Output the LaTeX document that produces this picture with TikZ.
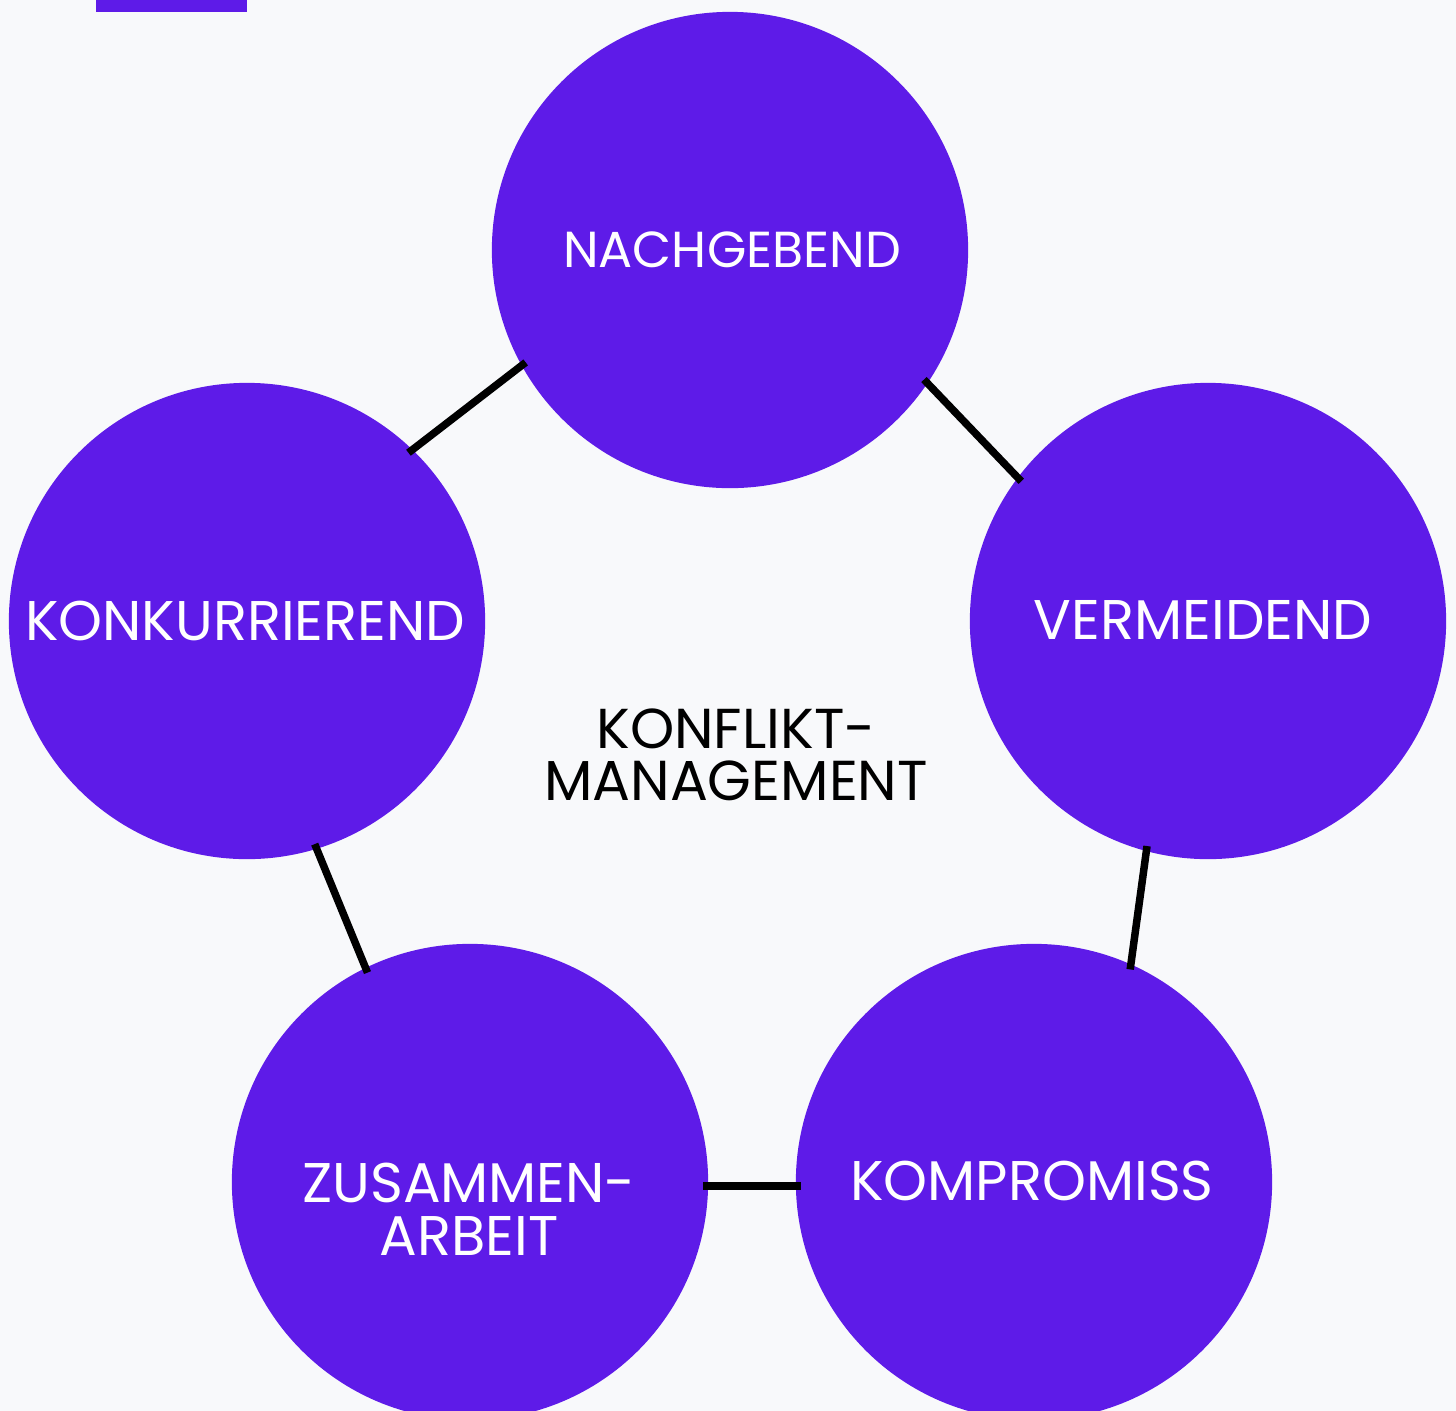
\documentclass[tikz,border=0pt]{standalone}
\usepackage{fontspec}
\setmainfont{Poppins}
\definecolor{bg}{HTML}{F8F9FB}
\definecolor{purp}{HTML}{5E1BE8}
\begin{document}
\begin{tikzpicture}[x=0.01cm,y=-0.01cm,
  bubble/.style={circle,fill=purp,minimum size=4.76cm,inner sep=0pt,outer sep=0pt},
  lbl/.style={text=white,anchor=base,inner sep=0pt},
  big/.style={font=\fontsize{15.9}{15.1}\selectfont},
  small/.style={font=\fontsize{14.4}{14.8}\selectfont},
  link/.style={draw=black,line width=0.075cm,shorten <=-0.05cm,shorten >=-0.05cm}]
\fill[bg] (0,0) rectangle (1456,1411);
\useasboundingbox (0,0) rectangle (1456,1411);
\fill[purp] (96,0) rectangle (247,12);
\node[bubble] (n) at (730,250) {};
\node[bubble] (ko) at (247,621) {};
\node[bubble] (v) at (1208,621) {};
\node[bubble] (z) at (470,1182) {};
\node[bubble] (k) at (1034,1182) {};
\node[lbl,small] (tn) at (732,267) {NACHGEBEND};
\node[lbl,big] (tko) at (245,640) {KONKURRIEREND};
\node[lbl,big] (tv) at (1203,639) {VERMEIDEND};
\node[lbl,big] (tk) at (1032,1200) {KOMPROMISS};
\node[text=white,align=center,inner sep=0pt,font=\fontsize{15.9}{15.1}\selectfont] (tz) at (469,1209) {ZUSAMMEN-\\ARBEIT};
\node[text=black,align=center,inner sep=0pt,font=\fontsize{16}{14.8}\selectfont] (tc) at (736,755) {KONFLIKT-\\MANAGEMENT};
\draw[link] (n.209) -- (ko.46);
\draw[link] (n.-34) -- (v.143);
\draw[link] (v.-105) -- (k.66);
\draw[link] (k.181) -- (z.-1);
\draw[link] (z.116.6) -- (ko.-73.4);
\end{tikzpicture}
\end{document}
